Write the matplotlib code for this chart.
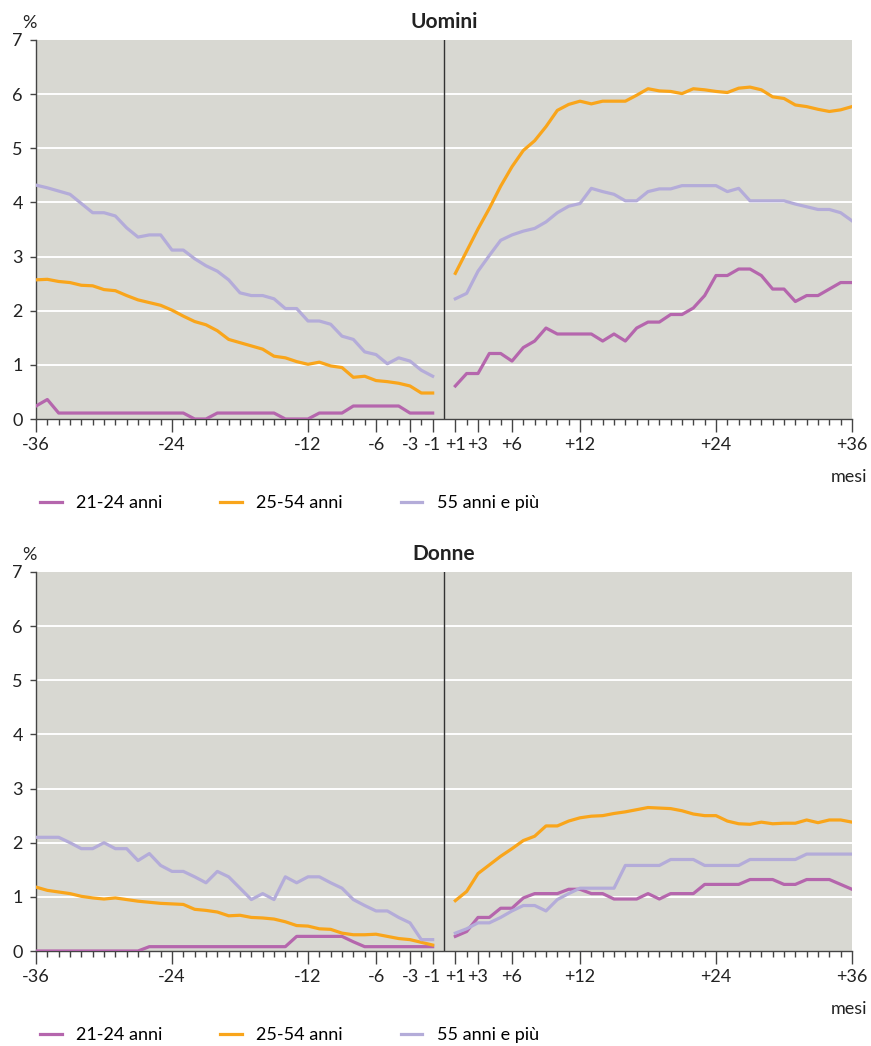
import matplotlib
matplotlib.use("Agg")
import matplotlib.pyplot as plt

plt.rcParams["font.family"] = ["Lato", "DejaVu Sans"]

# months before (-36..-1) and after (+1..+36) the event
months_before = list(range(-36, 0))
months_after = list(range(1, 37))

tick_pos = [-36, -24, -12, -6, -3, -1, 1, 3, 6, 12, 24, 36]
tick_lab = ["-36", "-24", "-12", "-6", "-3", "-1", "+1", "+3", "+6", "+12", "+24", "+36"]

series_names = ["21-24 anni", "25-54 anni", "55 anni e più"]
series_colors = ["#b566ad", "#f9a51b", "#b4acd9"]

# Uomini
men_young_before = [0.24, 0.36, 0.11, 0.11, 0.11, 0.11, 0.11, 0.11, 0.11, 0.11, 0.11, 0.11,
                    0.11, 0.11, 0.0, 0.0, 0.11, 0.11, 0.11, 0.11, 0.11, 0.11, 0.0, 0.0,
                    0.0, 0.11, 0.11, 0.11, 0.24, 0.24, 0.24, 0.24, 0.24, 0.11, 0.11, 0.11]
men_mid_before = [2.57, 2.58, 2.54, 2.52, 2.47, 2.46, 2.39, 2.37, 2.28, 2.20, 2.15, 2.10,
                  2.01, 1.90, 1.80, 1.74, 1.63, 1.47, 1.41, 1.35, 1.29, 1.16, 1.13, 1.06,
                  1.01, 1.05, 0.98, 0.95, 0.77, 0.79, 0.71, 0.69, 0.66, 0.61, 0.48, 0.48]
men_old_before = [4.32, 4.27, 4.21, 4.15, 3.98, 3.81, 3.81, 3.75, 3.53, 3.36, 3.40, 3.40,
                  3.12, 3.12, 2.96, 2.83, 2.73, 2.57, 2.33, 2.28, 2.28, 2.22, 2.04, 2.04,
                  1.81, 1.81, 1.75, 1.53, 1.47, 1.24, 1.19, 1.02, 1.13, 1.07, 0.90, 0.79]
men_young_after = [0.61, 0.84, 0.84, 1.21, 1.21, 1.07, 1.32, 1.44, 1.68, 1.57, 1.57, 1.57,
                   1.57, 1.44, 1.57, 1.44, 1.68, 1.79, 1.79, 1.93, 1.93, 2.05, 2.28, 2.65,
                   2.65, 2.77, 2.77, 2.65, 2.40, 2.40, 2.17, 2.28, 2.28, 2.40, 2.52, 2.52]
men_mid_after = [2.69, 3.10, 3.51, 3.89, 4.30, 4.66, 4.96, 5.14, 5.40, 5.70, 5.81, 5.87,
                 5.82, 5.87, 5.87, 5.87, 5.98, 6.10, 6.06, 6.05, 6.01, 6.10, 6.08, 6.05,
                 6.03, 6.11, 6.13, 6.08, 5.95, 5.92, 5.80, 5.77, 5.72, 5.68, 5.71, 5.77]
men_old_after = [2.22, 2.32, 2.73, 3.02, 3.30, 3.40, 3.47, 3.52, 3.64, 3.81, 3.93, 3.98,
                 4.26, 4.20, 4.15, 4.03, 4.03, 4.20, 4.25, 4.25, 4.31, 4.31, 4.31, 4.31,
                 4.20, 4.26, 4.03, 4.03, 4.03, 4.03, 3.97, 3.92, 3.87, 3.87, 3.81, 3.66]

# Donne
women_young_before = [0.0, 0.0, 0.0, 0.0, 0.0, 0.0, 0.0, 0.0, 0.0, 0.0, 0.08, 0.08,
                      0.08, 0.08, 0.08, 0.08, 0.08, 0.08, 0.08, 0.08, 0.08, 0.08, 0.08, 0.27,
                      0.27, 0.27, 0.27, 0.27, 0.17, 0.08, 0.08, 0.08, 0.08, 0.08, 0.08, 0.08]
women_mid_before = [1.18, 1.12, 1.09, 1.06, 1.01, 0.98, 0.96, 0.98, 0.95, 0.92, 0.90, 0.88,
                    0.87, 0.86, 0.77, 0.75, 0.72, 0.65, 0.66, 0.62, 0.61, 0.59, 0.54, 0.47,
                    0.46, 0.41, 0.40, 0.33, 0.30, 0.30, 0.31, 0.27, 0.23, 0.21, 0.16, 0.11]
women_old_before = [2.10, 2.10, 2.10, 2.00, 1.89, 1.89, 2.00, 1.89, 1.89, 1.67, 1.80, 1.58,
                    1.47, 1.47, 1.37, 1.26, 1.47, 1.37, 1.16, 0.95, 1.06, 0.95, 1.37, 1.26,
                    1.37, 1.37, 1.26, 1.16, 0.95, 0.84, 0.74, 0.74, 0.62, 0.52, 0.21, 0.21]
women_young_after = [0.27, 0.36, 0.62, 0.62, 0.79, 0.79, 0.98, 1.06, 1.06, 1.06, 1.14, 1.14,
                     1.06, 1.06, 0.96, 0.96, 0.96, 1.06, 0.96, 1.06, 1.06, 1.06, 1.23, 1.23,
                     1.23, 1.23, 1.32, 1.32, 1.32, 1.23, 1.23, 1.32, 1.32, 1.32, 1.23, 1.14]
women_mid_after = [0.93, 1.10, 1.43, 1.59, 1.75, 1.89, 2.04, 2.12, 2.31, 2.31, 2.40, 2.46,
                   2.49, 2.50, 2.54, 2.57, 2.61, 2.65, 2.64, 2.63, 2.59, 2.53, 2.50, 2.50,
                   2.40, 2.35, 2.34, 2.38, 2.35, 2.36, 2.36, 2.42, 2.37, 2.42, 2.42, 2.38]
women_old_after = [0.33, 0.41, 0.52, 0.52, 0.62, 0.74, 0.84, 0.84, 0.74, 0.95, 1.06, 1.16,
                   1.16, 1.16, 1.16, 1.58, 1.58, 1.58, 1.58, 1.69, 1.69, 1.69, 1.58, 1.58,
                   1.58, 1.58, 1.69, 1.69, 1.69, 1.69, 1.69, 1.79, 1.79, 1.79, 1.79, 1.79]

W, H = 871, 1046
fig = plt.figure(figsize=(W / 100, H / 100), dpi=100)


def panel(top_px, bottom_px, title, before, after):
    h_px = bottom_px - top_px
    ax = fig.add_axes([36 / W, 1 - bottom_px / H, (852 - 36) / W, h_px / H])
    ax.set_facecolor("#d8d8d2")
    ax.set_xlim(-36, 36)
    ax.set_ylim(0, 7)
    for y in range(1, 7):
        ax.axhline(y, color="white", lw=1.4, zorder=1)
    ax.axvline(0, color="#333333", lw=1.0, zorder=2)
    for vals, c in zip(before, series_colors):
        ax.plot(months_before, vals, color=c, lw=2.3, zorder=3, solid_joinstyle="round")
    lines = []
    for vals, c, name in zip(after, series_colors, series_names):
        ln, = ax.plot(months_after, vals, color=c, lw=2.3, zorder=3, label=name,
                      solid_joinstyle="round")
        lines.append(ln)

    for s in ["top", "right"]:
        ax.spines[s].set_visible(False)
    for s in ["left", "bottom"]:
        ax.spines[s].set_color("#444444")
        ax.spines[s].set_linewidth(1.0)

    ax.set_yticks(range(0, 8))
    ax.tick_params(axis="y", length=4.5, width=1, color="#444444", pad=5,
                   labelsize=13, labelcolor="#222222")
    ax.set_xticks(tick_pos)
    ax.set_xticklabels(tick_lab)
    ax.set_xticks(months_before + months_after, minor=True)
    ax.tick_params(axis="x", which="major", length=9, width=1, color="#444444", pad=4,
                   labelsize=13, labelcolor="#222222")
    ax.tick_params(axis="x", which="minor", length=4, width=1, color="#444444")

    ax.text(0.5, 1 + 18 / h_px, title, transform=ax.transAxes,
            ha="center", va="center", fontsize=15, fontweight="bold", color="#222222")
    fig.text(29 / W, 1 - (top_px - 17) / H, "%", ha="center", va="center",
             fontsize=13, color="#222222")
    fig.text(867 / W, 1 - (bottom_px + 58) / H, "mesi", ha="right", va="center",
             fontsize=13, color="#222222")

    ax.legend(handles=lines, loc="center left", ncol=3, frameon=False,
              bbox_to_anchor=(4 / 816, -84 / h_px),
              fontsize=13, handlelength=1.2, handletextpad=0.8, columnspacing=3.2,
              borderpad=0, borderaxespad=0)
    return ax


panel(40, 419, "Uomini",
      [men_young_before, men_mid_before, men_old_before],
      [men_young_after, men_mid_after, men_old_after])
panel(572, 951, "Donne",
      [women_young_before, women_mid_before, women_old_before],
      [women_young_after, women_mid_after, women_old_after])

fig.savefig("out.png", dpi=100, facecolor="white")
